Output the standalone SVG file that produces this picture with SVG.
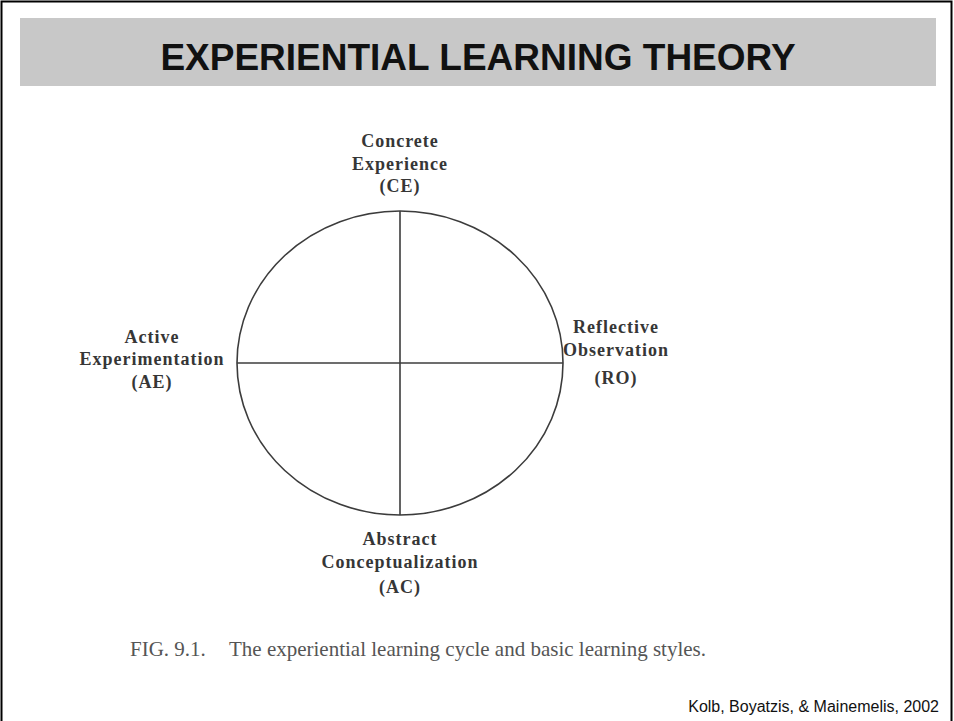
<svg xmlns="http://www.w3.org/2000/svg" width="954" height="721" viewBox="0 0 954 721">
  <style>
    .title { font-family: "Liberation Sans", Arial, sans-serif; font-weight: bold; font-size: 37px; fill: #111; }
    .lbl { font-family: "Liberation Serif", "Times New Roman", serif; font-weight: bold; font-size: 18px; letter-spacing: 1px; fill: #363636; text-anchor: middle; }
    .cap { font-family: "Liberation Serif", "Times New Roman", serif; font-size: 21px; fill: #555; }
    .cite { font-family: "Liberation Sans", Arial, sans-serif; font-size: 16px; fill: #111; text-anchor: end; }
    .wire { stroke: #3c3c3c; stroke-width: 1.6; fill: none; }
  </style>

  <!-- slide frame -->
  <rect x="0" y="0" width="954" height="721" fill="#fff"/>
  <rect x="1.5" y="1.5" width="950" height="740" fill="none" stroke="#000" stroke-width="2"/>

  <!-- title band -->
  <g id="title">
    <rect x="20" y="18" width="916" height="68" fill="#c8c8c8"/>
    <text class="title" x="478" y="70" text-anchor="middle">EXPERIENTIAL LEARNING THEORY</text>
  </g>

  <!-- learning cycle: circle split into four quadrants -->
  <g id="connectors">
    <ellipse class="wire" cx="400" cy="363" rx="163" ry="152"/>
    <line class="wire" x1="400" y1="211" x2="400" y2="515"/>
    <line class="wire" x1="237" y1="363" x2="563" y2="363"/>
  </g>

  <g id="node-ce">
    <text class="lbl" x="400" y="147">Concrete</text>
    <text class="lbl" x="400" y="170">Experience</text>
    <text class="lbl" x="400" y="192">(CE)</text>
  </g>

  <g id="node-ae">
    <text class="lbl" x="152" y="343">Active</text>
    <text class="lbl" x="152" y="365">Experimentation</text>
    <text class="lbl" x="152" y="388">(AE)</text>
  </g>

  <g id="node-ro">
    <text class="lbl" x="616" y="333">Reflective</text>
    <text class="lbl" x="616" y="356">Observation</text>
    <text class="lbl" x="616" y="384">(RO)</text>
  </g>

  <g id="node-ac">
    <text class="lbl" x="400" y="545">Abstract</text>
    <text class="lbl" x="400" y="568">Conceptualization</text>
    <text class="lbl" x="400" y="593">(AC)</text>
  </g>

  <!-- figure caption and source -->
  <g id="caption">
    <text class="cap" x="130" y="656">FIG. 9.1.</text>
    <text class="cap" x="229" y="656">The experiential learning cycle and basic learning styles.</text>
  </g>
  <g id="source">
    <text class="cite" x="939" y="712">Kolb, Boyatzis, &amp; Mainemelis, 2002</text>
  </g>
</svg>
